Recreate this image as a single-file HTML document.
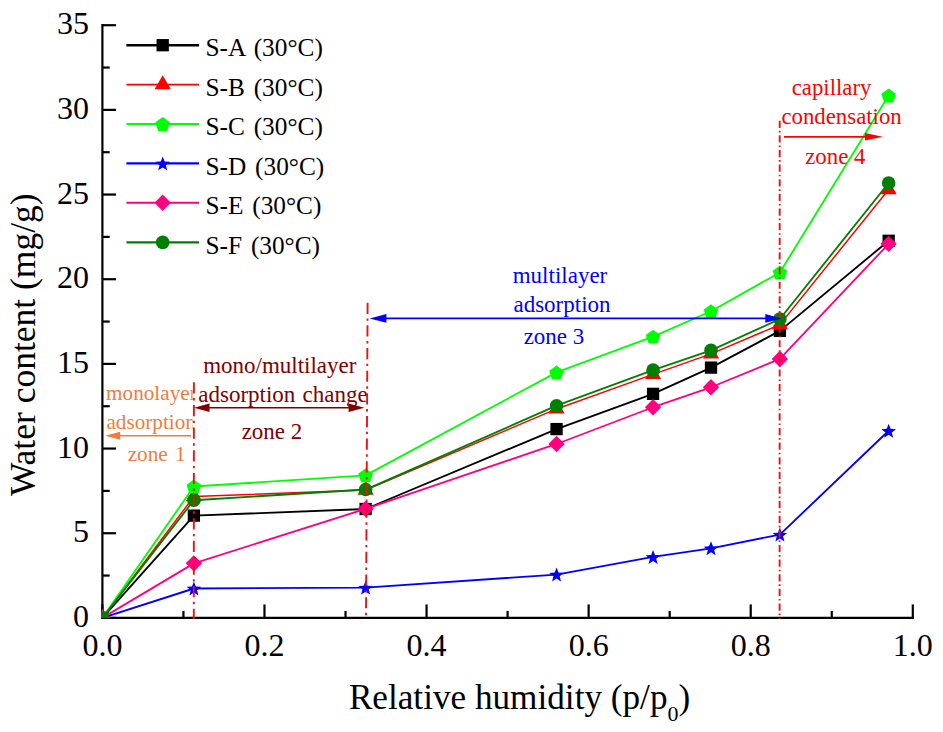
<!DOCTYPE html><html><head><meta charset="utf-8"><style>html,body{margin:0;padding:0;background:#fff;}svg{display:block;}text{font-family:"Liberation Serif",serif;}</style></head><body>
<svg width="943" height="732" viewBox="0 0 943 732">
<rect width="943" height="732" fill="#fff"/>
<g stroke="#000" stroke-width="2.2" fill="none">
<line x1="102.40" y1="24.01" x2="102.40" y2="619.10"/>
<line x1="101.20" y1="617.90" x2="914.00" y2="617.90"/>
<line x1="102.40" y1="617.90" x2="116.00" y2="617.90"/>
<line x1="102.40" y1="533.23" x2="116.00" y2="533.23"/>
<line x1="102.40" y1="448.56" x2="116.00" y2="448.56"/>
<line x1="102.40" y1="363.89" x2="116.00" y2="363.89"/>
<line x1="102.40" y1="279.22" x2="116.00" y2="279.22"/>
<line x1="102.40" y1="194.55" x2="116.00" y2="194.55"/>
<line x1="102.40" y1="109.88" x2="116.00" y2="109.88"/>
<line x1="102.40" y1="25.21" x2="116.00" y2="25.21"/>
<line x1="102.40" y1="575.56" x2="109.70" y2="575.56"/>
<line x1="102.40" y1="490.89" x2="109.70" y2="490.89"/>
<line x1="102.40" y1="406.22" x2="109.70" y2="406.22"/>
<line x1="102.40" y1="321.55" x2="109.70" y2="321.55"/>
<line x1="102.40" y1="236.88" x2="109.70" y2="236.88"/>
<line x1="102.40" y1="152.21" x2="109.70" y2="152.21"/>
<line x1="102.40" y1="67.54" x2="109.70" y2="67.54"/>
<line x1="102.40" y1="617.90" x2="102.40" y2="604.40"/>
<line x1="264.48" y1="617.90" x2="264.48" y2="604.40"/>
<line x1="426.56" y1="617.90" x2="426.56" y2="604.40"/>
<line x1="588.64" y1="617.90" x2="588.64" y2="604.40"/>
<line x1="750.72" y1="617.90" x2="750.72" y2="604.40"/>
<line x1="912.80" y1="617.90" x2="912.80" y2="604.40"/>
<line x1="183.44" y1="617.90" x2="183.44" y2="610.90"/>
<line x1="345.52" y1="617.90" x2="345.52" y2="610.90"/>
<line x1="507.60" y1="617.90" x2="507.60" y2="610.90"/>
<line x1="669.68" y1="617.90" x2="669.68" y2="610.90"/>
<line x1="831.76" y1="617.90" x2="831.76" y2="610.90"/>
</g>
<g font-size="32" fill="#000">
<text x="89" y="627.10" text-anchor="end">0</text>
<text x="89" y="542.43" text-anchor="end">5</text>
<text x="89" y="457.76" text-anchor="end">10</text>
<text x="89" y="373.09" text-anchor="end">15</text>
<text x="89" y="288.42" text-anchor="end">20</text>
<text x="89" y="203.75" text-anchor="end">25</text>
<text x="89" y="119.08" text-anchor="end">30</text>
<text x="89" y="34.41" text-anchor="end">35</text>
<text x="102.40" y="656.3" text-anchor="middle">0.0</text>
<text x="264.48" y="656.3" text-anchor="middle">0.2</text>
<text x="426.56" y="656.3" text-anchor="middle">0.4</text>
<text x="588.64" y="656.3" text-anchor="middle">0.6</text>
<text x="750.72" y="656.3" text-anchor="middle">0.8</text>
<text x="912.80" y="656.3" text-anchor="middle">1.0</text>
</g>
<text x="348.9" y="709.2" font-size="35.2">Relative humidity (p/p<tspan font-size="22" dy="12">0</tspan><tspan dy="-12">)</tspan></text>
<text transform="translate(35.2,344.7) rotate(-90)" font-size="35.5" text-anchor="middle">Water content (mg/g)</text>
<defs><clipPath id="pc"><rect x="101.6" y="20" width="812" height="597.9"/></clipPath></defs>
<g clip-path="url(#pc)">
<polyline points="102.40,617.90 193.89,515.62 365.62,509.01 556.55,429.09 653.07,393.86 711.01,367.62 779.89,330.87 888.65,240.78" fill="none" stroke="#000000" stroke-width="1.85" stroke-linejoin="round"/>
<rect x="96.25" y="611.75" width="12.3" height="12.3" fill="#000000"/>
<rect x="187.74" y="509.47" width="12.3" height="12.3" fill="#000000"/>
<rect x="359.47" y="502.86" width="12.3" height="12.3" fill="#000000"/>
<rect x="550.40" y="422.94" width="12.3" height="12.3" fill="#000000"/>
<rect x="646.92" y="387.71" width="12.3" height="12.3" fill="#000000"/>
<rect x="704.86" y="361.47" width="12.3" height="12.3" fill="#000000"/>
<rect x="773.74" y="324.72" width="12.3" height="12.3" fill="#000000"/>
<rect x="882.50" y="234.63" width="12.3" height="12.3" fill="#000000"/>
<polyline points="102.40,617.90 193.89,496.48 365.62,490.05 556.55,408.93 653.07,374.39 711.01,353.90 779.89,324.60 888.65,189.47" fill="none" stroke="#ff0000" stroke-width="1.5" stroke-linejoin="round"/>
<polygon points="102.40,608.57 110.50,622.57 94.30,622.57" fill="#ff0000"/>
<polygon points="193.89,487.15 201.99,501.15 185.79,501.15" fill="#ff0000"/>
<polygon points="365.62,480.71 373.72,494.71 357.52,494.71" fill="#ff0000"/>
<polygon points="556.55,399.60 564.65,413.60 548.45,413.60" fill="#ff0000"/>
<polygon points="653.07,365.06 661.17,379.06 644.97,379.06" fill="#ff0000"/>
<polygon points="711.01,344.57 719.11,358.57 702.91,358.57" fill="#ff0000"/>
<polygon points="779.89,315.27 787.99,329.27 771.79,329.27" fill="#ff0000"/>
<polygon points="888.65,180.14 896.75,194.14 880.55,194.14" fill="#ff0000"/>
<polyline points="102.40,617.90 193.89,486.49 365.62,475.32 556.55,372.36 653.07,336.63 711.01,311.23 779.89,272.45 888.65,95.49" fill="none" stroke="#00ff00" stroke-width="1.85" stroke-linejoin="round"/>
<polygon points="102.40,610.94 109.72,616.26 106.93,624.86 97.87,624.86 95.08,616.26" fill="#00ff00"/>
<polygon points="193.89,479.53 201.22,484.85 198.42,493.46 189.37,493.46 186.57,484.85" fill="#00ff00"/>
<polygon points="365.62,468.35 372.94,473.67 370.14,482.28 361.09,482.28 358.29,473.67" fill="#00ff00"/>
<polygon points="556.55,365.39 563.87,370.71 561.07,379.32 552.02,379.32 549.23,370.71" fill="#00ff00"/>
<polygon points="653.07,329.66 660.39,334.98 657.59,343.59 648.54,343.59 645.74,334.98" fill="#00ff00"/>
<polygon points="711.01,304.26 718.33,309.58 715.54,318.19 706.48,318.19 703.69,309.58" fill="#00ff00"/>
<polygon points="779.89,265.48 787.22,270.80 784.42,279.41 775.37,279.41 772.57,270.80" fill="#00ff00"/>
<polygon points="888.65,88.52 895.97,93.84 893.18,102.45 884.12,102.45 881.33,93.84" fill="#00ff00"/>
<polyline points="102.40,617.90 193.89,588.50 365.62,587.59 556.55,574.55 653.07,556.94 711.01,548.30 779.89,534.58 888.65,430.78" fill="none" stroke="#0000ff" stroke-width="1.85" stroke-linejoin="round"/>
<polygon points="102.40,610.94 104.34,615.97 109.72,616.26 105.54,619.66 106.93,624.87 102.40,621.94 97.87,624.87 99.26,619.66 95.08,616.26 100.46,615.97" fill="#0000ff"/>
<polygon points="193.89,581.54 195.83,586.57 201.22,586.86 197.03,590.26 198.42,595.47 193.89,592.54 189.37,595.47 190.76,590.26 186.57,586.86 191.95,586.57" fill="#0000ff"/>
<polygon points="365.62,580.63 367.56,585.66 372.94,585.95 368.76,589.35 370.14,594.56 365.62,591.63 361.09,594.56 362.48,589.35 358.29,585.95 363.68,585.66" fill="#0000ff"/>
<polygon points="556.55,567.59 558.49,572.62 563.87,572.91 559.69,576.31 561.07,581.52 556.55,578.59 552.02,581.52 553.41,576.31 549.23,572.91 554.61,572.62" fill="#0000ff"/>
<polygon points="653.07,549.98 655.01,555.01 660.39,555.30 656.21,558.70 657.59,563.91 653.07,560.98 648.54,563.91 649.93,558.70 645.74,555.30 651.13,555.01" fill="#0000ff"/>
<polygon points="711.01,541.34 712.95,546.37 718.33,546.66 714.15,550.06 715.54,555.27 711.01,552.34 706.48,555.27 707.87,550.06 703.69,546.66 709.07,546.37" fill="#0000ff"/>
<polygon points="779.89,527.62 781.83,532.65 787.22,532.95 783.03,536.34 784.42,541.55 779.89,538.62 775.37,541.55 776.76,536.34 772.57,532.95 777.95,532.65" fill="#0000ff"/>
<polygon points="888.65,423.82 890.59,428.85 895.97,429.14 891.79,432.54 893.18,437.75 888.65,434.82 884.12,437.75 885.51,432.54 881.33,429.14 886.71,428.85" fill="#0000ff"/>
<polyline points="102.40,617.90 193.89,563.37 365.62,508.85 556.55,443.99 653.07,407.24 711.01,387.26 779.89,358.98 888.65,243.83" fill="none" stroke="#ff0080" stroke-width="1.85" stroke-linejoin="round"/>
<polygon points="102.40,609.70 110.60,617.90 102.40,626.10 94.20,617.90" fill="#ff0080"/>
<polygon points="193.89,555.17 202.09,563.37 193.89,571.57 185.69,563.37" fill="#ff0080"/>
<polygon points="365.62,500.65 373.82,508.85 365.62,517.05 357.42,508.85" fill="#ff0080"/>
<polygon points="556.55,435.79 564.75,443.99 556.55,452.19 548.35,443.99" fill="#ff0080"/>
<polygon points="653.07,399.04 661.27,407.24 653.07,415.44 644.87,407.24" fill="#ff0080"/>
<polygon points="711.01,379.06 719.21,387.26 711.01,395.46 702.81,387.26" fill="#ff0080"/>
<polygon points="779.89,350.78 788.09,358.98 779.89,367.18 771.69,358.98" fill="#ff0080"/>
<polygon points="888.65,235.63 896.85,243.83 888.65,252.03 880.45,243.83" fill="#ff0080"/>
<polyline points="102.40,617.90 193.89,500.21 365.62,489.54 556.55,405.72 653.07,370.16 711.01,350.34 779.89,319.01 888.65,183.03" fill="none" stroke="#008000" stroke-width="1.85" stroke-linejoin="round"/>
<circle cx="102.40" cy="617.90" r="6.8" fill="#008000"/>
<circle cx="193.89" cy="500.21" r="6.8" fill="#008000"/>
<circle cx="365.62" cy="489.54" r="6.8" fill="#008000"/>
<circle cx="556.55" cy="405.72" r="6.8" fill="#008000"/>
<circle cx="653.07" cy="370.16" r="6.8" fill="#008000"/>
<circle cx="711.01" cy="350.34" r="6.8" fill="#008000"/>
<circle cx="779.89" cy="319.01" r="6.8" fill="#008000"/>
<circle cx="888.65" cy="183.03" r="6.8" fill="#008000"/>
</g>
<g font-size="25.3" word-spacing="2.5">
<line x1="126.4" y1="45.2" x2="199" y2="45.2" stroke="#000000" stroke-width="2.4"/>
<rect x="156.55" y="39.05" width="12.3" height="12.3" fill="#000000"/>
<text x="205.5" y="56.40" fill="#000">S-A (30°C)</text>
<line x1="126.4" y1="84.6" x2="199" y2="84.6" stroke="#ff0000" stroke-width="1.6"/>
<polygon points="162.70,75.27 170.80,89.27 154.60,89.27" fill="#ff0000"/>
<text x="205.5" y="95.80" fill="#000">S-B (30°C)</text>
<line x1="126.4" y1="124.0" x2="199" y2="124.0" stroke="#00ff00" stroke-width="2.2"/>
<polygon points="162.70,117.04 170.02,122.36 167.23,130.96 158.17,130.96 155.38,122.36" fill="#00ff00"/>
<text x="205.5" y="135.20" fill="#000">S-C (30°C)</text>
<line x1="126.4" y1="163.4" x2="199" y2="163.4" stroke="#0000ff" stroke-width="2.2"/>
<polygon points="162.70,156.44 164.64,161.47 170.02,161.76 165.84,165.16 167.23,170.37 162.70,167.44 158.17,170.37 159.56,165.16 155.38,161.76 160.76,161.47" fill="#0000ff"/>
<text x="205.5" y="174.60" fill="#000">S-D (30°C)</text>
<line x1="126.4" y1="202.8" x2="199" y2="202.8" stroke="#ff0080" stroke-width="2.0"/>
<polygon points="162.70,194.60 170.90,202.80 162.70,211.00 154.50,202.80" fill="#ff0080"/>
<text x="205.5" y="214.00" fill="#000">S-E (30°C)</text>
<line x1="126.4" y1="242.4" x2="199" y2="242.4" stroke="#008000" stroke-width="2.2"/>
<circle cx="162.70" cy="242.40" r="6.8" fill="#008000"/>
<text x="205.5" y="253.60" fill="#000">S-F (30°C)</text>
</g>
<line x1="193.9" y1="382.3" x2="193.8" y2="618.9" stroke="#f01010" stroke-width="1.9" stroke-dasharray="11.2 4.5 2.4 4.55"/>
<line x1="367.6" y1="302.7" x2="366.0" y2="618.9" stroke="#f01010" stroke-width="1.9" stroke-dasharray="11.2 4.5 2.4 4.55"/>
<line x1="779.7" y1="120.7" x2="779.6" y2="618.9" stroke="#f01010" stroke-width="1.9" stroke-dasharray="7.2 2.9 1.6 2.93"/>
<line x1="115" y1="435.7" x2="191" y2="435.7" stroke="#f47a3a" stroke-width="1.6"/>
<polygon points="105.20,435.70 120.20,431.70 120.20,439.70" fill="#f47a3a"/>
<defs><clipPath id="c1"><rect x="0" y="370" width="192.6" height="100"/></clipPath><clipPath id="c2"><rect x="195" y="340" width="171.6" height="110"/></clipPath></defs>
<g font-size="21.2" fill="#f47a3a" text-anchor="middle" clip-path="url(#c1)">
<text x="151.4" y="400.4">monolayer</text>
<text x="151.2" y="429.4">adsorption</text>
<text x="156.6" y="461.4" word-spacing="2">zone 1</text>
</g>
<line x1="205" y1="407.8" x2="355" y2="407.8" stroke="#800000" stroke-width="1.6"/>
<polygon points="194.00,407.80 209.50,403.50 209.50,412.10" fill="#800000"/>
<polygon points="364.40,407.80 348.60,403.60 348.60,412.00" fill="#800000"/>
<g font-size="23" fill="#800000" text-anchor="middle" clip-path="url(#c2)">
<text x="279.8" y="372.9">mono/multilayer</text>
<text x="283" y="401.9" word-spacing="1.5">adsorption change</text>
<text x="272" y="438.8">zone 2</text>
</g>
<line x1="380" y1="318.4" x2="770" y2="318.4" stroke="#0000ff" stroke-width="1.6"/>
<polygon points="369.60,318.40 386.40,314.10 386.40,322.70" fill="#0000ff"/>
<polygon points="781.50,318.40 765.30,314.00 765.30,322.80" fill="#0000ff"/>
<g font-size="23" fill="#0000ff" text-anchor="middle">
<text x="560" y="283.4">multilayer</text>
<text x="562" y="311.6">adsorption</text>
<text x="554" y="343.8">zone 3</text>
</g>
<line x1="784" y1="136.8" x2="870" y2="136.8" stroke="#ff0000" stroke-width="1.8"/>
<polygon points="882.80,136.80 865.00,133.00 865.00,140.60" fill="#ff0000"/>
<g font-size="22.8" fill="#ff0000" text-anchor="middle">
<text x="831.6" y="95.2">capillary</text>
<text x="841.6" y="124.2">condensation</text>
<text x="835.3" y="163.5">zone 4</text>
</g>
</svg></body></html>
